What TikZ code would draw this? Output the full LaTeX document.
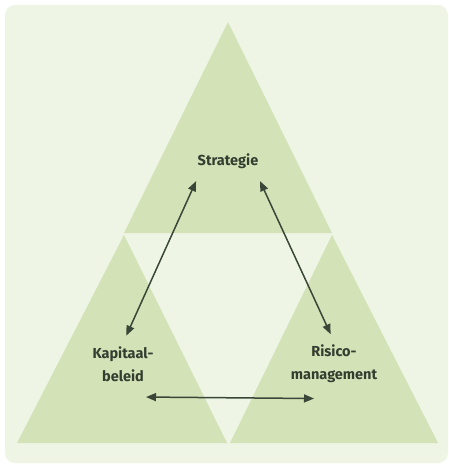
\documentclass[tikz,border=0pt]{standalone}
\usepackage{fontspec}
\setmainfont{Fira Sans}
\usetikzlibrary{arrows.meta}
\definecolor{panelgreen}{HTML}{EEF5E5}
\definecolor{trigreen}{HTML}{D3E2B7}
\definecolor{textgray}{HTML}{343D30}
\definecolor{arrowgray}{HTML}{3A4638}

\begin{document}
\begin{tikzpicture}[x=1pt,y=-1pt,
        lbl/.style={font=\bfseries\fontsize{14.5}{23}\selectfont, text=textgray, align=center},
        link/.style={{Triangle[length=10pt,width=8pt]}-{Triangle[length=10pt,width=8pt]}, line width=1.5pt, draw=arrowgray}]
        \useasboundingbox (0,0) rectangle (449,466);
        \fill[panelgreen, rounded corners=10pt] (5,5) rectangle (448,463);
        % the three triangles
        \fill[trigreen] (228,22) -- (332,233) -- (124,233) -- cycle;
        \fill[trigreen] (124,235) -- (227,443) -- (17,443) -- cycle;
        \fill[trigreen] (332,235) -- (438,443) -- (230,443) -- cycle;
        \node[lbl] (strat) at (228,161) {Strategie};
        \node[lbl] (kap) at (123,364) {Kapitaal-\\beleid};
        \node[lbl] (risk) at (334,364) {Risico-\\management};
        \draw[link, shorten <=10pt, shorten >=8pt] ([xshift=6pt]strat.south west) -- (kap.north);
        \draw[link, shorten <=10pt, shorten >=8pt] ([xshift=-6pt]strat.south east) -- (risk.north);
        \draw[link] ([xshift=23pt,yshift=-12pt]kap.south) -- ([xshift=-20pt,yshift=-12pt]risk.south);
    \end{tikzpicture}
\end{document}
